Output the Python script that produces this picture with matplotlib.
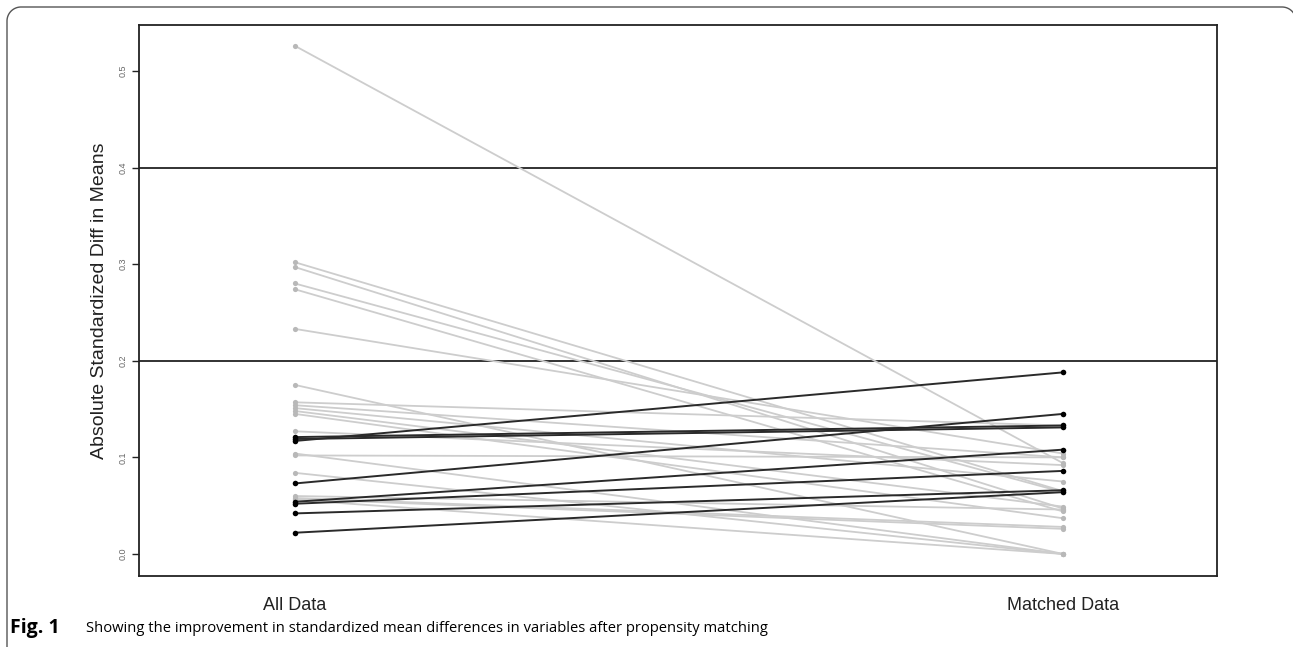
import matplotlib
matplotlib.use("Agg")
import matplotlib.pyplot as plt
import numpy as np

# ---- data ----
groups = ["All Data", "Matched Data"]
gray_all = [0.526, 0.302, 0.297, 0.280, 0.274, 0.233, 0.175, 0.157, 0.154, 0.151,
            0.148, 0.145, 0.127, 0.104, 0.102, 0.084, 0.060, 0.058, 0.056, 0.057]
gray_matched = [0.094, 0.065, 0.047, 0.064, 0.044, 0.104, 0.000, 0.133, 0.100, 0.075,
                0.049, 0.037, 0.092, 0.000, 0.100, 0.000, 0.046, 0.028, 0.000, 0.026]
black_all = [0.121, 0.119, 0.117, 0.073, 0.054, 0.052, 0.042, 0.022]
black_matched = [0.133, 0.131, 0.188, 0.145, 0.108, 0.086, 0.066, 0.064]
ref_lines = [0.2, 0.4]
yticks = [0.0, 0.1, 0.2, 0.3, 0.4, 0.5]
ytick_labels = ["0.0", "0.1", "0.2", "0.3", "0.4", "0.5"]
caption_bold = "Fig. 1"
caption_text = "Showing the improvement in standardized mean differences in variables after propensity matching"

W, H = 1293, 647
fig = plt.figure(figsize=(W / 100, H / 100), dpi=100)
ax = fig.add_axes([139 / W, 1 - 576 / H, (1217 - 139) / W, (576 - 25) / H])

xpos = [1, 2]
for a, m in zip(gray_all, gray_matched):
    ax.plot(xpos, [a, m], color="#cdcdcd", lw=1.3, zorder=2, solid_capstyle="round")
    ax.scatter(xpos, [a, m], s=14, color="#b8b8b8", zorder=3, linewidths=0)
for a, m in zip(black_all, black_matched):
    ax.plot(xpos, [a, m], color="#2a2a2a", lw=1.4, zorder=4, solid_capstyle="round")
    ax.scatter(xpos, [a, m], s=16, color="#000000", zorder=5, linewidths=0)

for r in ref_lines:
    ax.axhline(r, color="#222222", lw=1.3, zorder=1)

ax.set_xlim(0.797, 2.2005)
ax.set_ylim(-0.0228, 0.5476)
ax.set_xticks(xpos)
ax.set_xticklabels(groups, fontsize=13, family="Liberation Sans", color="#222222")
ax.tick_params(axis="x", length=0, pad=15)
ax.set_yticks(yticks)
ax.set_yticklabels(ytick_labels, fontsize=6.5, family="Liberation Sans", color="#666666",
                   rotation=90, va="center")
ax.tick_params(axis="y", length=5, width=1, color="#222222", pad=3)
for s in ax.spines.values():
    s.set_color("#222222")
    s.set_linewidth(1.3)
ax.set_ylabel("Absolute Standardized Diff in Means", fontsize=14,
              family="Liberation Sans", color="#222222", labelpad=8)

# caption
fig.text(10 / W, 1 - 628 / H, caption_bold, fontsize=14, fontweight="bold",
         family="Open Sans", va="center", ha="left")
fig.text(86 / W, 1 - 628 / H, caption_text, fontsize=10.6,
         family="Open Sans", va="center", ha="left")

# outer frame (journal figure border) drawn in pixel coordinates
fa = fig.add_axes([0, 0, 1, 1], zorder=-1)
fa.set_xlim(0, W)
fa.set_ylim(H, 0)
fa.axis("off")
r = 14
x0, y0, x1 = 7, 7, 1296
th = np.linspace(np.pi, 1.5 * np.pi, 30)
left_arc_x = x0 + r + r * np.cos(th)
left_arc_y = y0 + r + r * np.sin(th)
th2 = np.linspace(1.5 * np.pi, 2 * np.pi, 30)
right_arc_x = x1 - r + r * np.cos(th2)
right_arc_y = y0 + r + r * np.sin(th2)
px = np.concatenate([[x0], left_arc_x, right_arc_x, [x1]])
py = np.concatenate([[H + 5], left_arc_y, right_arc_y, [H + 5]])
fa.plot(px, py, color="#555555", lw=1.0, clip_on=False)

fig.savefig("out.png", dpi=100)
